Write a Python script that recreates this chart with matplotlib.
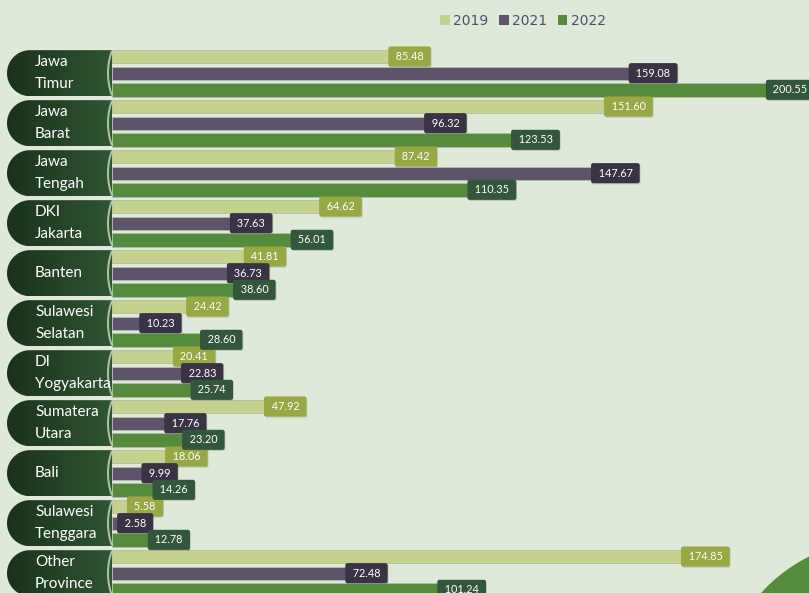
import numpy as np
import matplotlib.pyplot as plt
from matplotlib.patches import Polygon, Circle
from matplotlib.colors import LinearSegmentedColormap

# data
provinces = ['Jawa\nTimur', 'Jawa\nBarat', 'Jawa\nTengah', 'DKI\nJakarta', 'Banten',
             'Sulawesi\nSelatan', 'DI\nYogyakarta', 'Sumatera\nUtara', 'Bali',
             'Sulawesi\nTenggara', 'Other\nProvince']
years = ['2019', '2021', '2022']
v2019 = [85.48, 151.60, 87.42, 64.62, 41.81, 24.42, 20.41, 47.92, 18.06, 5.58, 174.85]
v2021 = [159.08, 96.32, 147.67, 37.63, 36.73, 10.23, 22.83, 17.76, 9.99, 2.58, 72.48]
v2022 = [200.55, 123.53, 110.35, 56.01, 38.60, 28.60, 25.74, 23.20, 14.26, 12.78, 101.24]

bar_colors = ['#c5d28d', '#5d536b', '#548b3c']
box_colors = ['#97a844', '#3a3346', '#33573a']
bg_color = '#dfe9d9'

W, H = 809, 593
fig = plt.figure(figsize=(W / 100, H / 100), dpi=100)
fig.patch.set_facecolor(bg_color)

# background layer in pixel units (decoration)
bg = fig.add_axes([0, 0, 1, 1], zorder=0)
bg.set_xlim(0, W)
bg.set_ylim(H, 0)
bg.axis('off')
bg.add_patch(Circle((880, 700), 160, color='#548b3c', lw=0))

ax = fig.add_axes([0, 0, 1, 1], zorder=1)
ax.patch.set_alpha(0)
ax.axis('off')
px = 3.31       # pixels per unit on x
py = 50 / 3     # pixels per bar slot

bh = 0.8
series = [v2019, v2021, v2022]
for k, vals in enumerate(series):
    ys = np.arange(len(provinces)) * 3 + k
    ax.barh(ys, vals, height=bh, color=bar_colors[k], edgecolor='#b3bca9', lw=0.6, label=years[k], zorder=2)
    for y, v in zip(ys, vals):
        # soft shadow, then the label box
        ax.annotate(f' {v:.2f} ', xy=(v, y), xytext=(11.1, -0.8), textcoords='offset points',
                    ha='center', va='center', fontsize=7.8, color='none', family='Lato', zorder=3,
                    bbox=dict(boxstyle='round,pad=0.42,rounding_size=0.2', fc='#7f8a7a', ec='none', alpha=0.35))
        ax.annotate(f' {v:.2f} ', xy=(v, y), xytext=(10.5, 0), textcoords='offset points',
                    ha='center', va='center', fontsize=7.8, color='white', family='Lato', zorder=4,
                    bbox=dict(boxstyle='round,pad=0.42,rounding_size=0.2', fc=box_colors[k], ec='none'))

# category pills
cmap = LinearSegmentedColormap.from_list('pill', ['#1a321b', '#2f5632'])
grad = np.linspace(0, 1, 64).reshape(1, -1)
x0 = -105 / px
ry = 1.38
rx = ry * py / px
for i, name in enumerate(provinces):
    yc = 3 * i + 1
    t = np.linspace(np.pi / 2, 3 * np.pi / 2, 60)
    xs = list(x0 + rx + rx * np.cos(t)) + [0, 0]
    ys = list(yc + ry * np.sin(t)) + [yc - ry, yc + ry]
    poly = Polygon(np.column_stack([xs, ys]), closed=True, fc='none', ec='none', zorder=2)
    ax.add_patch(poly)
    im = ax.imshow(grad, cmap=cmap, aspect='auto', extent=(x0, 0, yc + ry, yc - ry), zorder=2)
    im.set_clip_path(poly)
    # light rim at the right edge
    a = np.linspace(-0.35, 0.35, 30)
    ax.plot((108 + 65 - 65 * np.cos(a) - 112) / px, yc + 65 * np.sin(a) / py,
            color='#d4ddd0', lw=1.4, alpha=0.8, zorder=3, solid_capstyle='butt')
    ax.text(-77 / px, yc, name, ha='left', va='center', color='white', fontsize=11,
            family='Lato', linespacing=1.7, zorder=3)

ax.set_xlim(-112 / px, (W - 112) / px)
ax.set_ylim((H - 56.5) / py, -56.5 / py)

leg = ax.legend(loc='center', bbox_to_anchor=(523 / W, 1 - 21 / H), ncol=3, frameon=False,
                fontsize=10, handlelength=0.7, handleheight=0.7, handletextpad=0.25,
                columnspacing=0.75, labelcolor='#44546a', bbox_transform=fig.transFigure)
for h in leg.legend_handles:
    h.set_edgecolor('none')

fig.savefig('out.png', dpi=100, facecolor=bg_color)
